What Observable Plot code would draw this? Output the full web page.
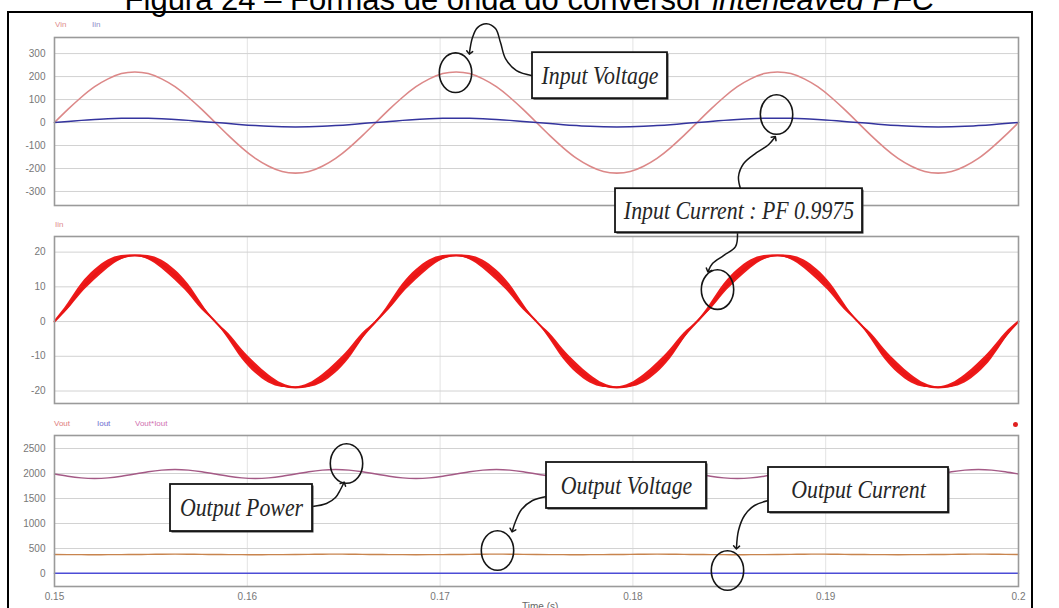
<!DOCTYPE html>
<html>
<head>
<meta charset="utf-8">
<script src="https://cdn.jsdelivr.net/npm/d3@7"></script>
<script src="https://cdn.jsdelivr.net/npm/@observablehq/plot@0.6"></script>
<style>
  body { margin: 0; background: #fff; }
  #fig { position: relative; width: 1059px; height: 608px; overflow: hidden; background: #fff;
         font-family: "Liberation Sans", Arial, sans-serif; }
  #title { position: absolute; left: 0; width: 1059px; top: -16px; text-align: center;
           font-size: 31px; line-height: 31px; white-space: nowrap; color: #000; }
  #border { position: absolute; left: 7px; top: 11px; width: 1026px; height: 640px;
            border: 2px solid #000; box-sizing: border-box; }
  .panel { position: absolute; left: 0; }
  .legend { position: absolute; font-size: 8px; line-height: 8px; white-space: nowrap; }
  #marker { position: absolute; left: 1013px; top: 422px; width: 5px; height: 5px; border-radius: 50%; background: #e02020; }
  #xlabel { position: absolute; left: 522px; top: 601px; font-size: 10px; color: #666; }
</style>
</head>
<body>
<div id="fig">
  <div id="title">Figura 24 – Formas de onda do conversor <i>interleaved PFC</i></div>
  <div id="border"></div>
  <div id="p1" class="panel" style="top:30px"></div>
  <div id="p2" class="panel" style="top:229px"></div>
  <div id="p3" class="panel" style="top:428px"></div>
  <div class="legend" style="left:55px;top:21px;color:#e08c8c">Vin</div>
  <div class="legend" style="left:92px;top:21px;color:#8c8cc8">Iin</div>
  <div class="legend" style="left:55px;top:221px;color:#e08c8c">Iin</div>
  <div class="legend" style="left:54px;top:420px;color:#e07c7c">Vout</div>
  <div class="legend" style="left:97px;top:420px;color:#6a6ad0">Iout</div>
  <div class="legend" style="left:135px;top:420px;color:#d070b0">Vout*Iout</div>
  <div id="marker"></div>
  <div id="xlabel">Time (s)</div>
</div>
<script>
// Simulation time, s (15° steps of the 60 Hz mains)
const time = [
  0.15, 0.150694, 0.151389, 0.152083, 0.152778, 0.153472, 0.154167, 0.154861, 0.155556, 0.15625,
  0.156944, 0.157639, 0.158333, 0.159028, 0.159722, 0.160417, 0.161111, 0.161806, 0.1625, 0.163194,
  0.163889, 0.164583, 0.165278, 0.165972, 0.166667, 0.167361, 0.168056, 0.16875, 0.169444, 0.170139,
  0.170833, 0.171528, 0.172222, 0.172917, 0.173611, 0.174306, 0.175, 0.175694, 0.176389, 0.177083,
  0.177778, 0.178472, 0.179167, 0.179861, 0.180556, 0.18125, 0.181944, 0.182639, 0.183333, 0.184028,
  0.184722, 0.185417, 0.186111, 0.186806, 0.1875, 0.188194, 0.188889, 0.189583, 0.190278, 0.190972,
  0.191667, 0.192361, 0.193056, 0.19375, 0.194444, 0.195139, 0.195833, 0.196528, 0.197222, 0.197917,
  0.198611, 0.199306, 0.2
];

// Input voltage Vin (V)
const vin = [
  0, 57, 110, 156, 190, 213, 220, 213, 190, 156, 110, 57, 0, -57, -110, -156, -190, -213, -220, -213, -190, -156, -110, -57,
  0, 57, 110, 156, 190, 213, 220, 213, 190, 156, 110, 57, 0, -57, -110, -156, -190, -213, -220, -213, -190, -156, -110, -57,
  0, 57, 110, 156, 190, 213, 220, 213, 190, 156, 110, 57, 0, -57, -110, -156, -190, -213, -220, -213, -190, -156, -110, -57,
  0
];

// Input current Iin (A), mean value (slight flattening around each zero crossing)
const iin = [
  0, 4.3, 9.4, 13.4, 16.5, 18.4, 19, 18.4, 16.5, 13.4, 9.4, 4.3, 0, -4.3, -9.4, -13.4, -16.5, -18.4, -19, -18.4, -16.5, -13.4, -9.4, -4.3,
  0, 4.3, 9.4, 13.4, 16.5, 18.4, 19, 18.4, 16.5, 13.4, 9.4, 4.3, 0, -4.3, -9.4, -13.4, -16.5, -18.4, -19, -18.4, -16.5, -13.4, -9.4, -4.3,
  0, 4.3, 9.4, 13.4, 16.5, 18.4, 19, 18.4, 16.5, 13.4, 9.4, 4.3, 0, -4.3, -9.4, -13.4, -16.5, -18.4, -19, -18.4, -16.5, -13.4, -9.4, -4.3,
  0
];

// Half-height of the switching ripple envelope on Iin (A)
const iinRipple = [
  0.15, 0.9, 1.4, 1.5, 1.2, 0.6, 0.2, 0.6, 1.2, 1.5, 1.4, 0.9,
  0.15, 0.9, 1.4, 1.5, 1.2, 0.6, 0.2, 0.6, 1.2, 1.5, 1.4, 0.9,
  0.15, 0.9, 1.4, 1.5, 1.2, 0.6, 0.2, 0.6, 1.2, 1.5, 1.4, 0.9,
  0.15, 0.9, 1.4, 1.5, 1.2, 0.6, 0.2, 0.6, 1.2, 1.5, 1.4, 0.9,
  0.15, 0.9, 1.4, 1.5, 1.2, 0.6, 0.2, 0.6, 1.2, 1.5, 1.4, 0.9,
  0.15, 0.9, 1.4, 1.5, 1.2, 0.6, 0.2, 0.6, 1.2, 1.5, 1.4, 0.9,
  0.15
];

// Output power Vout*Iout (W)
const pout = [
  1990, 1945, 1912, 1900, 1912, 1945, 1990, 2035, 2068, 2080, 2068, 2035,
  1990, 1945, 1912, 1900, 1912, 1945, 1990, 2035, 2068, 2080, 2068, 2035,
  1990, 1945, 1912, 1900, 1912, 1945, 1990, 2035, 2068, 2080, 2068, 2035,
  1990, 1945, 1912, 1900, 1912, 1945, 1990, 2035, 2068, 2080, 2068, 2035,
  1990, 1945, 1912, 1900, 1912, 1945, 1990, 2035, 2068, 2080, 2068, 2035,
  1990, 1945, 1912, 1900, 1912, 1945, 1990, 2035, 2068, 2080, 2068, 2035,
  1990
];

// Output voltage Vout (V)
const vout = [
  380, 378, 377, 376, 377, 378, 380, 383, 386, 388, 386, 383,
  380, 378, 377, 376, 377, 378, 380, 383, 386, 388, 386, 383,
  380, 378, 377, 376, 377, 378, 380, 383, 386, 388, 386, 383,
  380, 378, 377, 376, 377, 378, 380, 383, 386, 388, 386, 383,
  380, 378, 377, 376, 377, 378, 380, 383, 386, 388, 386, 383,
  380, 378, 377, 376, 377, 378, 380, 383, 386, 388, 386, 383,
  380
];

// Output current Iout (A)
const iout = [
  5, 5, 5, 5, 5, 5, 5, 5, 5, 5, 5, 5, 5, 5, 5, 5, 5, 5, 5, 5, 5, 5, 5, 5,
  5, 5, 5, 5, 5, 5, 5, 5, 5, 5, 5, 5, 5, 5, 5, 5, 5, 5, 5, 5, 5, 5, 5, 5,
  5, 5, 5, 5, 5, 5, 5, 5, 5, 5, 5, 5, 5, 5, 5, 5, 5, 5, 5, 5, 5, 5, 5, 5,
  5
];

// Axis ticks
const xTicks = [0.15, 0.16, 0.17, 0.18, 0.19, 0.2];
const yTicksV = [-300, -200, -100, 0, 100, 200, 300];
const yTicksI = [-20, -10, 0, 10, 20];
const yTicksP = [0, 500, 1000, 1500, 2000, 2500];

// Callouts, in the units of the panel they sit on: [time, value]
const boxVin = [{label: "Input Voltage", x1: 0.174793, x2: 0.181794, y1: 304, y2: 104}];
const leadVin = [[0.174793, 204], [0.173963, 226], [0.173392, 278], [0.173133, 348], [0.172873, 409],
                 [0.172407, 430], [0.17194, 413], [0.17168, 370], [0.171525, 304]];
const ringVin = [[0.1708, 217]];

const ringIinTop = [[0.18745, 35]];
const boxIin = [{label: "Input Current : PF 0.9975", x1: 0.179098, x2: 0.191909, y1: 38.27, y2: 25.61}];
const leadIinUp = [[0.185581, 38.27], [0.185477, 41.73], [0.185737, 45.47], [0.186411, 48.63], [0.187033, 50.94], [0.187344, 52.95]];
const leadIinDown = [[0.185425, 25.61], [0.185322, 21.58], [0.184699, 18.99], [0.184129, 16.69], [0.183921, 14.68]];
const ringIin = [[0.184388, 9.2]];

const boxPout = [{label: "Output Power", x1: 0.156017, x2: 0.163382, y1: 1780, y2: 840}];
const leadPout = [[0.163382, 1340], [0.164108, 1400], [0.164575, 1520], [0.164834, 1680], [0.16499, 1800]];
const ringPout = [[0.165145, 2200]];

const boxVout = [{label: "Output Voltage", x1: 0.175519, x2: 0.183817, y1: 2220, y2: 1300}];
const leadVout = [[0.175519, 1540], [0.174793, 1460], [0.174222, 1280], [0.173911, 1040], [0.173755, 860]];
const ringVout = [[0.172977, 460]];

const boxIout = [{label: "Output Current", x1: 0.187033, x2: 0.196369, y1: 2120, y2: 1220}];
const leadIout = [[0.187033, 1460], [0.186307, 1360], [0.185788, 1160], [0.185477, 860], [0.185373, 520]];
const ringIout = [[0.184906, 60]];

// One row per time step
const rows = time.map((t, i) => ({
  t, vin: vin[i], iin: iin[i],
  lo: iin[i] - iinRipple[i], hi: iin[i] + iinRipple[i],
  pout: pout[i], vout: vout[i], iout: iout[i]
}));

// Hand-drawn style ring: an upright ellipse symbol
const ellipse = {
  draw(context, size) {
    const r = Math.sqrt(size / Math.PI), rx = r * 0.9, ry = r * 1.1, k = 0.5523;
    context.moveTo(rx, 0);
    context.bezierCurveTo(rx, ry * k, rx * k, ry, 0, ry);
    context.bezierCurveTo(-rx * k, ry, -rx, ry * k, -rx, 0);
    context.bezierCurveTo(-rx, -ry * k, -rx * k, -ry, 0, -ry);
    context.bezierCurveTo(rx * k, -ry, rx, -ry * k, rx, 0);
    context.closePath();
  }
};

const ink = "#151515";
const boxMarks = (box) => [
  Plot.rect(box, {x1: "x1", x2: "x2", y1: "y1", y2: "y2", fill: "#3a3a3a", dx: 1.5, dy: 1.5}),
  Plot.rect(box, {x1: "x1", x2: "x2", y1: "y1", y2: "y2", fill: "white", stroke: ink, strokeWidth: 1.8}),
  Plot.text(box, {x: d => (d.x1 + d.x2) / 2, y: d => (d.y1 + d.y2) / 2, text: "label",
    fontFamily: "Liberation Serif, Times New Roman, serif", fontStyle: "italic", fontSize: 26,
    fill: "#262626"})
];
const leadMark = (lead) => Plot.line(lead, {x: d => d[0], y: d => d[1], curve: "catmull-rom",
  stroke: ink, strokeWidth: 1.5, markerEnd: "arrow"});
const ringMark = (ring) => Plot.dot(ring, {x: d => d[0], y: d => d[1], r: 18, symbol: ellipse,
  stroke: ink, strokeWidth: 1.6, fill: "none"});

const gridMarks = (yTicks) => [
  Plot.ruleX(xTicks.slice(1, -1), {stroke: "#e3e3e3"}),
  Plot.ruleY(yTicks, {stroke: "#d2d2d2"})
];
const frameMark = Plot.frame({stroke: "#9a9a9a", strokeWidth: 1.6});

const common = {
  width: 1059, marginLeft: 54, marginRight: 41, marginTop: 7,
  style: {background: "transparent", overflow: "visible", color: "#777",
          fontSize: "10px", fontFamily: "Liberation Sans, Arial, sans-serif"}
};

// Narrow the italic serif callout labels to their condensed width
function condense(svg) {
  d3.select(svg).selectAll("text").each(function () {
    const g = this.closest("g");
    if (!g || g.getAttribute("font-style") !== "italic") return;
    const w = this.getComputedTextLength();
    this.setAttribute("textLength", (w * 0.84).toFixed(1));
    this.setAttribute("lengthAdjust", "spacingAndGlyphs");
  });
}

const yAxis = (domain, ticks) => ({domain, ticks, tickSize: 0, tickPadding: 9, label: null, tickFormat: d => String(d)});

// Panel 1: Vin and Iin
const p1 = Plot.plot({
  ...common, height: 178, marginBottom: 3,
  x: {domain: [0.15, 0.2], axis: null},
  y: yAxis([-361, 370], yTicksV),
  marks: [
    ...gridMarks(yTicksV),
    Plot.line(rows, {x: "t", y: "vin", stroke: "#dc8888", strokeWidth: 1.6, curve: "natural"}),
    Plot.line(rows, {x: "t", y: "iin", stroke: "#34349e", strokeWidth: 1.5, curve: "natural"}),
    frameMark,
    leadMark(leadVin),
    ringMark(ringVin),
    ...boxMarks(boxVin),
    ringMark(ringIinTop)
  ]
});
document.getElementById("p1").append(p1);
condense(p1);

// Panel 2: Iin with its switching ripple band
const p2 = Plot.plot({
  ...common, height: 177, marginBottom: 3,
  x: {domain: [0.15, 0.2], axis: null},
  y: yAxis([-23.6, 24.5], yTicksI),
  marks: [
    ...gridMarks(yTicksI),
    Plot.areaY(rows, {x: "t", y1: "lo", y2: "hi", fill: "#ee1a1a", curve: "natural"}),
    Plot.line(rows, {x: "t", y: "iin", stroke: "#e81515", strokeWidth: 2, curve: "natural"}),
    frameMark,
    leadMark(leadIinUp),
    leadMark(leadIinDown),
    ringMark(ringIin),
    ...boxMarks(boxIin)
  ]
});
document.getElementById("p2").append(p2);
condense(p2);

// Panel 3: Vout, Iout and output power
const p3 = Plot.plot({
  ...common, height: 183, marginBottom: 25,
  x: {domain: [0.15, 0.2], ticks: xTicks, tickSize: 0, tickPadding: 6, label: null,
      tickFormat: d => String(+d.toFixed(2))},
  y: yAxis([-260, 2760], yTicksP),
  marks: [
    ...gridMarks(yTicksP),
    Plot.line(rows, {x: "t", y: "pout", stroke: "#a45a86", strokeWidth: 1.4, curve: "natural"}),
    Plot.line(rows, {x: "t", y: "vout", stroke: "#c8844e", strokeWidth: 1.4, curve: "natural"}),
    Plot.line(rows, {x: "t", y: "iout", stroke: "#4c4cd6", strokeWidth: 1.6, curve: "natural"}),
    frameMark,
    leadMark(leadPout), ringMark(ringPout), ...boxMarks(boxPout),
    leadMark(leadVout), ringMark(ringVout), ...boxMarks(boxVout),
    leadMark(leadIout), ringMark(ringIout), ...boxMarks(boxIout)
  ]
});
document.getElementById("p3").append(p3);
condense(p3);
</script>
</body>
</html>
